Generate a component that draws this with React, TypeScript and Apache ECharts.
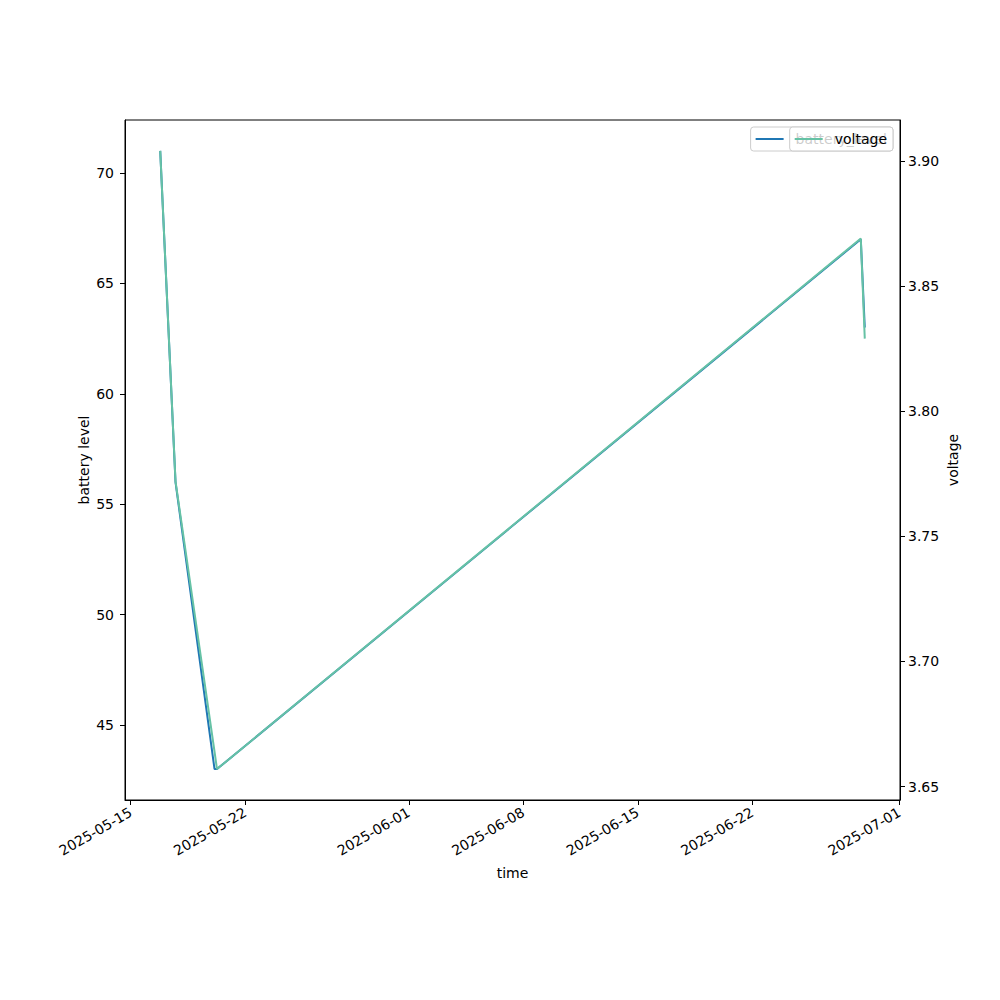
import React, { useEffect, useRef } from "react";
import * as echarts from "echarts";

const times = [
  "2025-05-16T19:20:00",
  "2025-05-17T17:45:00",
  "2025-05-20T03:00:00",
  "2025-05-20T06:35:00",
  "2025-06-28T15:10:00",
  "2025-06-28T21:00:00",
];
const batteryLevel = [71, 56, 43, 43, 67, 63];
const voltage = [3.904, 3.772, 3.664, 3.657, 3.869, 3.829];

const xTickLabels = [
  "2025-05-15",
  "2025-05-22",
  "2025-06-01",
  "2025-06-08",
  "2025-06-15",
  "2025-06-22",
  "2025-07-01",
];
const batteryTicks = [45, 50, 55, 60, 65, 70];
const voltageTicks = [3.65, 3.7, 3.75, 3.8, 3.85, 3.9];

const FONT = "DejaVu Sans";

function padExtent(vals: number[], frac: number): [number, number] {
  const lo = Math.min(...vals);
  const hi = Math.max(...vals);
  const m = (hi - lo) * frac;
  return [lo - m, hi + m];
}

function fmtDate(v: number): string {
  const d = new Date(v);
  const p = (n: number) => String(n).padStart(2, "0");
  return `${d.getFullYear()}-${p(d.getMonth() + 1)}-${p(d.getDate())}`;
}

export default function App() {
  const ref = useRef<HTMLDivElement>(null);
  useEffect(() => {
    if (!ref.current) return;
    const chart = echarts.init(ref.current, undefined, { renderer: "svg" });
    const tNum = times.map((t) => new Date(t).getTime());
    const [xMin, xMax] = padExtent(tNum, 0.05);
    const [bMin, bMax] = padExtent(batteryLevel, 0.05);
    const [vMin, vMax] = padExtent(voltage, 0.05);
    const xTicks = xTickLabels.map((s) => new Date(s + "T00:00:00").getTime());

    const axisLabelBase = { color: "#000", fontFamily: FONT, fontSize: 14 };
    const legendBase = {
      right: 107,
      top: 127,
      padding: [5, 6, 5, 5],
      itemWidth: 28,
      itemHeight: 2,
      icon: "rect",
      backgroundColor: "rgba(255,255,255,0.8)",
      borderColor: "#cccccc",
      borderWidth: 1,
      borderRadius: 3,
      textStyle: { color: "#000", fontFamily: FONT, fontSize: 14, padding: [0, 0, 0, 7] },
      selectedMode: false,
    };

    chart.setOption({
      animation: false,
      backgroundColor: "#fff",
      textStyle: { fontFamily: FONT },
      grid: {
        left: 125,
        right: 100,
        top: 120,
        bottom: 200,
        show: true,
        borderColor: "#000",
        borderWidth: 1,
        containLabel: false,
      },
      legend: [
        { ...legendBase, z: 5, data: ["battery_level"] },
        { ...legendBase, z: 8, data: ["voltage"] },
      ],
      xAxis: {
        type: "value",
        min: xMin,
        max: xMax,
        scale: true,
        name: "time",
        nameLocation: "middle",
        nameGap: 66,
        nameMoveOverlap: false,
        nameTextStyle: { color: "#000", fontFamily: FONT, fontSize: 14 },
        axisLine: { show: true, onZero: false, lineStyle: { color: "#000", width: 1 } },
        axisTick: { show: true, length: 5, lineStyle: { color: "#000" }, customValues: xTicks },
        axisLabel: {
          ...axisLabelBase,
          rotate: 30,
          margin: 11,
          customValues: xTicks,
          formatter: (v: number) => fmtDate(v),
        },
        splitLine: { show: false },
      },
      yAxis: [
        {
          type: "value",
          min: bMin,
          max: bMax,
          position: "left",
          name: "battery level",
          nameLocation: "middle",
          nameRotate: 90,
          nameGap: 34,
          nameMoveOverlap: false,
          nameTextStyle: { color: "#000", fontFamily: FONT, fontSize: 14 },
          axisLine: { show: true, onZero: false, lineStyle: { color: "#000", width: 1 } },
          axisTick: { show: true, length: 5, lineStyle: { color: "#000" }, customValues: batteryTicks },
          axisLabel: {
            ...axisLabelBase,
            margin: 11,
            customValues: batteryTicks,
            formatter: (v: number) => String(Math.round(v)),
          },
          splitLine: { show: false },
        },
        {
          type: "value",
          min: vMin,
          max: vMax,
          position: "right",
          name: "voltage",
          nameLocation: "middle",
          nameRotate: 90,
          nameGap: 46,
          nameMoveOverlap: false,
          nameTextStyle: { color: "#000", fontFamily: FONT, fontSize: 14 },
          axisLine: { show: true, onZero: false, lineStyle: { color: "#000", width: 1 } },
          axisTick: { show: true, length: 5, lineStyle: { color: "#000" }, customValues: voltageTicks },
          axisLabel: {
            ...axisLabelBase,
            margin: 8,
            customValues: voltageTicks,
            formatter: (v: number) => v.toFixed(2),
          },
          splitLine: { show: false },
        },
      ],
      series: [
        {
          name: "battery_level",
          type: "line",
          yAxisIndex: 0,
          data: tNum.map((t, i) => [t, batteryLevel[i]]),
          symbol: "none",
          lineStyle: { color: "#1f77b4", width: 2 },
          itemStyle: { color: "#1f77b4" },
        },
        {
          name: "voltage",
          type: "line",
          yAxisIndex: 1,
          data: tNum.map((t, i) => [t, voltage[i]]),
          symbol: "none",
          lineStyle: { color: "#66c2a5", width: 2 },
          itemStyle: { color: "#66c2a5" },
        },
      ],
    });
    return () => chart.dispose();
  }, []);
  return <div ref={ref} style={{ width: 1000, height: 1000, margin: -8 }} />;
}
